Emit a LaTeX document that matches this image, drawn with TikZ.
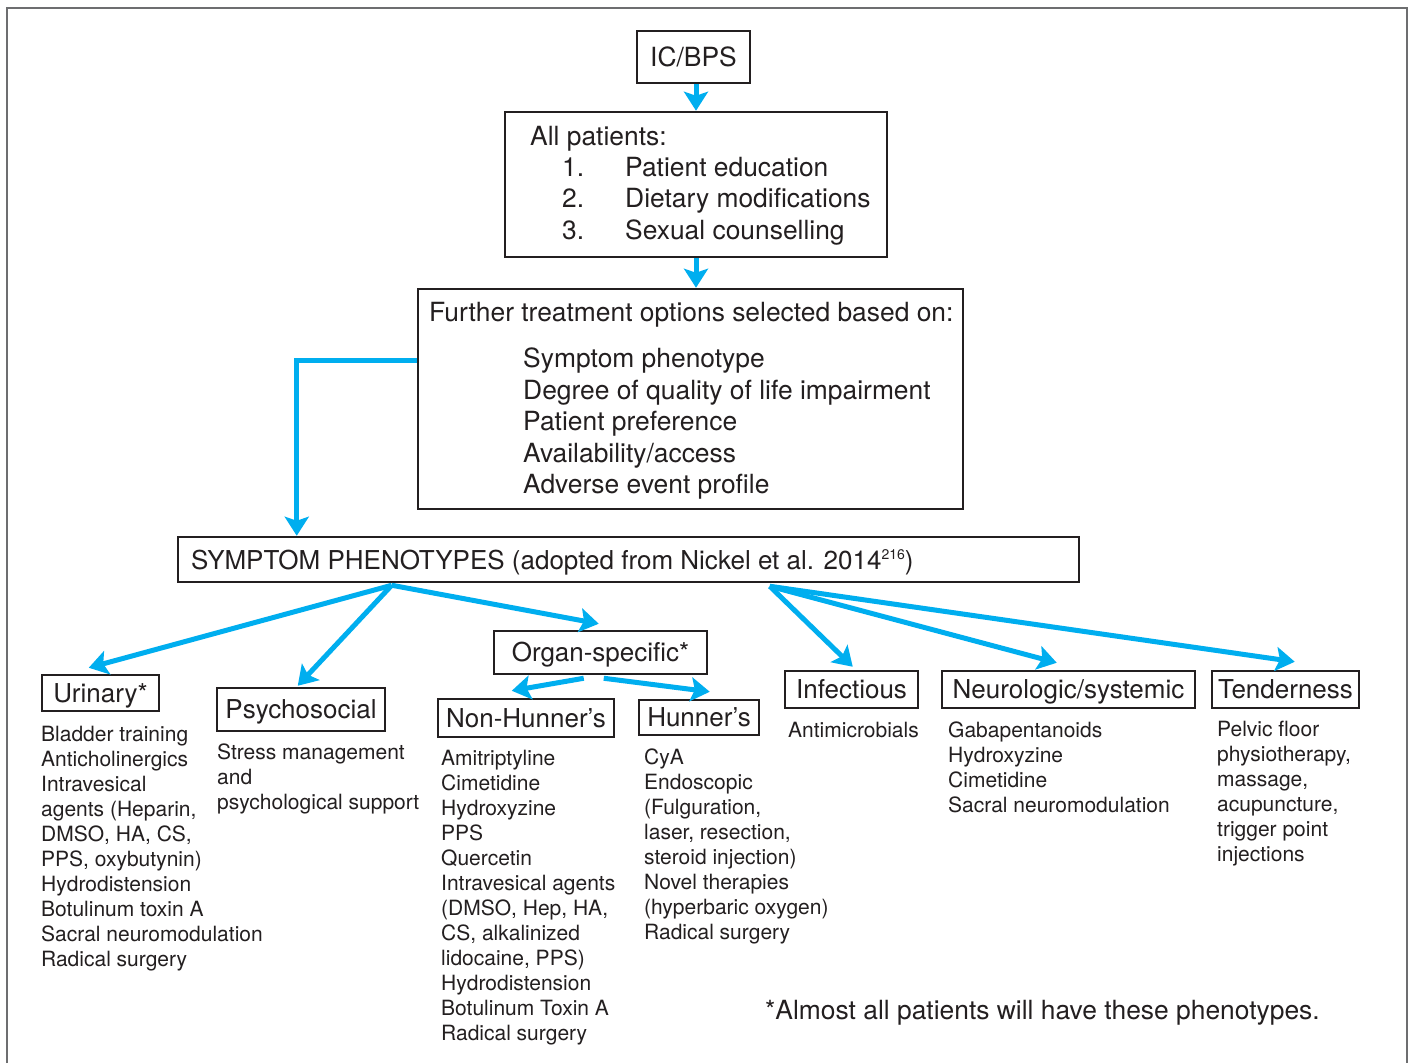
\documentclass[tikz,border=0pt]{standalone}
\usepackage{fontspec}
\setmainfont{TeX Gyre Heros}
\usetikzlibrary{arrows.meta}
\definecolor{arrowcyan}{HTML}{00AEEF}
\definecolor{ink}{HTML}{231F20}
\definecolor{framegray}{HTML}{6D6E70}
\newcommand\phBoxFont{\fontsize{26.4pt}{31.4pt}\selectfont}
\newcommand\phHeadFont{\fontsize{26pt}{30pt}\selectfont}
\newcommand\phBodyFont{\fontsize{21pt}{25pt}\selectfont}
\newcommand\phSup[1]{\raisebox{10pt}{\fontsize{14pt}{14pt}\selectfont #1}}
\begin{document}
\begin{tikzpicture}[x=1pt,y=-1pt,
  box/.style={draw=ink, line width=2.5pt, inner sep=0pt, text=ink, font=\phHeadFont, text height=18.6pt, text depth=0pt},
  bigbox/.style={draw=ink, line width=2.5pt, inner sep=0pt},
  txt/.style={anchor=base west, inner sep=0pt, text=ink, font=\phBodyFont},
  bigtxt/.style={anchor=base west, inner sep=0pt, text=ink, font=\phBoxFont},
  arr/.style={draw=arrowcyan, line width=5pt, -{Stealth[length=19pt,width=24pt,inset=4pt]}},
  frameline/.style={draw=framegray, line width=2.5pt}]
\useasboundingbox (0,0) rectangle (1410,1063);
\fill[white] (0,0) rectangle (1410,1063);
% outer frame (open at the bottom)
\draw[frameline] (7,1063) -- (7,8) -- (1407,8) -- (1407,1063);

% top chain
\node[box, font=\phBoxFont, minimum width=113pt, minimum height=52pt] (icbps) at (693.5,57) {IC/BPS};
\node[bigbox, minimum width=382pt, minimum height=145pt] (allp) at (696,184.5) {};
\node[bigtxt] (allpT) at (530,145) {\begin{tabular}[t]{@{}l@{}}All patients:\\
\hspace{32pt}\makebox[63pt][l]{1.}Patient education\\
\hspace{32pt}\makebox[63pt][l]{2.}Dietary modifications\\
\hspace{32pt}\makebox[63pt][l]{3.}Sexual counselling\end{tabular}};
\node[bigbox, minimum width=545pt, minimum height=220pt] (further) at (690.5,399) {};
\node[bigtxt] (furtherT) at (429,321) {\begin{tabular}[t]{@{}l@{}}Further treatment options selected based on:\\[15.5pt]
\hspace{94pt}Symptom phenotype\\
\hspace{94pt}Degree of quality of life impairment\\
\hspace{94pt}Patient preference\\
\hspace{94pt}Availability/access\\
\hspace{94pt}Adverse event profile\end{tabular}};
\node[bigbox, minimum width=901pt, minimum height=45pt] (symp) at (628.5,559.5) {};
\node[bigtxt, font=\fontsize{26pt}{30pt}\selectfont] (sympT) at (191,569) {SYMPTOM PHENOTYPES (adopted from Nickel et al. 2014\phSup{216})};

\draw[arr] (icbps.south -| allp.north) -- (allp.north);
\draw[arr] (allp.south) -- (allp.south |- further.north);
\draw[arr] ([yshift=39pt]further.west) -| ([xshift=120pt]symp.north west);

% phenotype boxes
\node[box, minimum width=117pt, minimum height=36pt] (urinary) at (100.5,693) {Urinary*};
\node[box, minimum width=168pt, minimum height=43pt] (psycho) at (301,709.5) {Psychosocial};
\node[box, minimum width=213pt, minimum height=43pt] (organ) at (600.5,652.5) {Organ-specific*};
\node[box, minimum width=176pt, minimum height=38pt] (nonh) at (526,718) {Non-Hunner’s};
\node[box, minimum width=120pt, minimum height=35pt] (hunner) at (699,717.5) {Hunner’s};
\node[box, minimum width=133pt, minimum height=37pt] (infect) at (851.5,689.5) {Infectious};
\node[box, minimum width=253pt, minimum height=37pt] (neuro) at (1068.5,689.5) {Neurologic/systemic};
\node[box, minimum width=147pt, minimum height=37pt] (tender) at (1285.5,689.5) {Tenderness};

% connectors from the phenotype box
\draw[arr] ([xshift=215pt,yshift=-2pt]symp.south west) -- ([xshift=48pt,yshift=6pt]urinary.north west);
\draw[arr] ([xshift=215pt,yshift=-2pt]symp.south west) -- ([xshift=82pt,yshift=1pt]psycho.north west);
\draw[arr] ([xshift=215pt,yshift=-2pt]symp.south west) -- ([xshift=106pt,yshift=6pt]organ.north west);
\draw[arr] ([xshift=593pt,yshift=-3pt]symp.south west) -- ([xshift=69pt,yshift=3pt]infect.north west);
\draw[arr] ([xshift=593pt,yshift=-3pt]symp.south west) -- ([xshift=116pt,yshift=7pt]neuro.north west);
\draw[arr] ([xshift=593pt,yshift=-3pt]symp.south west) -- ([xshift=84pt,yshift=8pt]tender.north west);
\draw[arr] ([xshift=91pt,yshift=-3pt]organ.south west) -- ([xshift=75pt,yshift=7pt]nonh.north west);
\draw[arr] ([xshift=111pt,yshift=-3pt]organ.south west) -- ([xshift=72pt,yshift=7pt]hunner.north west);

% treatment lists
\node[txt] (urinaryT) at (41,741) {\begin{tabular}[t]{@{}l@{}}Bladder training\\Anticholinergics\\Intravesical\\agents (Heparin,\\DMSO, HA, CS,\\PPS, oxybutynin)\\Hydrodistension\\Botulinum toxin A\\Sacral neuromodulation\\Radical surgery\end{tabular}};
\node[txt] (psychoT) at (217,759) {\begin{tabular}[t]{@{}l@{}}Stress management\\and\\psychological support\end{tabular}};
\node[txt] (nonhT) at (441,765) {\begin{tabular}[t]{@{}l@{}}Amitriptyline\\Cimetidine\\Hydroxyzine\\PPS\\Quercetin\\Intravesical agents\\(DMSO, Hep, HA,\\CS, alkalinized\\lidocaine, PPS)\\Hydrodistension\\Botulinum Toxin A\\Radical surgery\end{tabular}};
\node[txt] (hunnerT) at (644,764) {\begin{tabular}[t]{@{}l@{}}CyA\\Endoscopic\\(Fulguration,\\laser, resection,\\steroid injection)\\Novel therapies\\(hyperbaric oxygen)\\Radical surgery\end{tabular}};
\node[txt] (infectT) at (788,737) {Antimicrobials};
\node[txt] (neuroT) at (948,737) {\begin{tabular}[t]{@{}l@{}}Gabapentanoids\\Hydroxyzine\\Cimetidine\\Sacral neuromodulation\end{tabular}};
\node[txt] (tenderT) at (1217,736) {\begin{tabular}[t]{@{}l@{}}Pelvic floor\\physiotherapy,\\massage,\\acupuncture,\\trigger point\\injections\end{tabular}};

% footnote
\node[bigtxt] (foot) at (765,1019) {*Almost all patients will have these phenotypes.};
\end{tikzpicture}
\end{document}
